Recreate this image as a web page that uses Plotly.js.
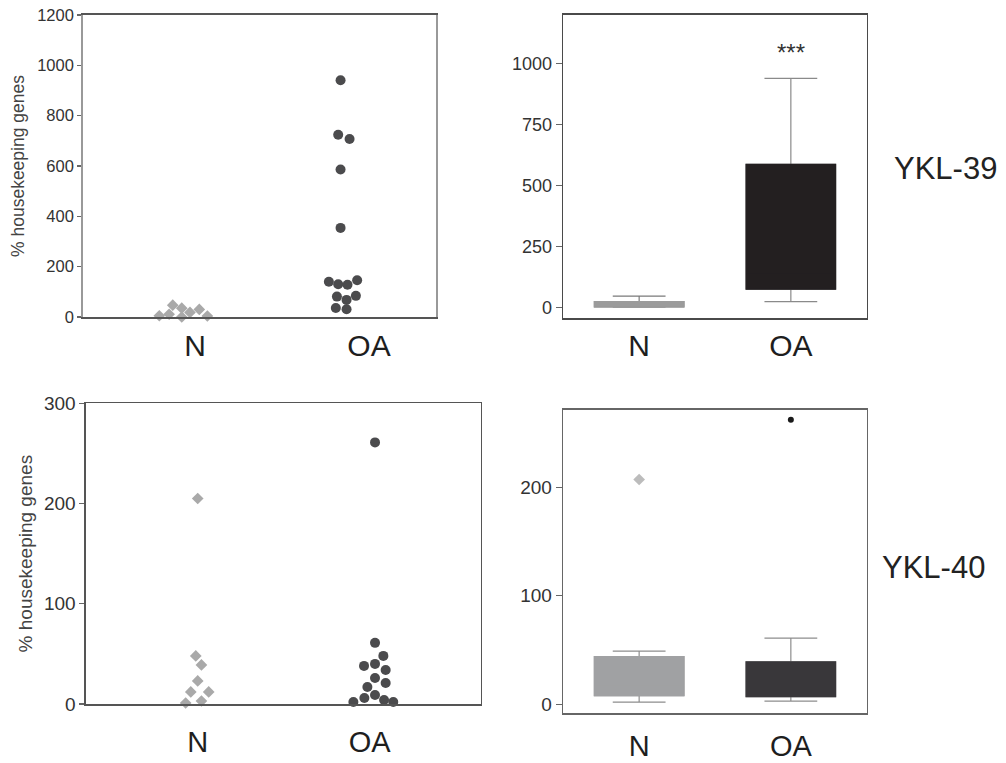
<!DOCTYPE html>
<html>
<head>
<meta charset="utf-8">
<script src="https://cdn.plot.ly/plotly-3.0.1.min.js"></script>
<style>
  html, body { margin: 0; padding: 0; background: #fff; }
  #chart { width: 1006px; height: 763px; }
</style>
</head>
<body>
<div id="chart"></div>
<script>
// ---------- data ----------
const categories = ['N', 'OA'];
const geneLabels = ['YKL-39', 'YKL-40'];
const yTitle = '% housekeeping genes';
const significance = '***';

// YKL-39 individual values (scatter panel)
const ykl39N  = [47, 35, 30, 18, 11, 5, 0, 4];
const ykl39OA = [941, 724, 707, 586, 354, 140, 130, 128, 146, 81, 68, 84, 36, 31];
// YKL-40 individual values (scatter panel)
const ykl40N  = [205, 48, 39, 23, 12, 12, 3, 1];
const ykl40OA = [261, 61, 48, 40, 38, 34, 26, 21, 17, 9, 6, 4, 2, 2];

// horizontal spread of the dot plots (display offsets from the category position)
const ykl39NSpread  = [-0.062, -0.005, 0.106, 0.047, -0.085, -0.147, -0.005, 0.157];
const ykl39OASpread = [0, -0.015, 0.057, 0, 0, -0.074, -0.015, 0.044, 0.105, -0.023, 0.038, 0.097, -0.030, 0.038];
const ykl40NSpread  = [0, -0.011, 0.021, 0, -0.039, 0.062, 0.021, -0.068];
const ykl40OASpread = [0, 0, 0.047, 0, -0.062, 0.060, 0, 0.060, -0.043, 0, -0.060, 0.051, -0.122, 0.103];

// YKL-39 box statistics [N, OA]
const ykl39Q1     = [2, 74];
const ykl39Median = [12, 135];
const ykl39Q3     = [23, 586];
const ykl39Lower  = [0, 23];
const ykl39Upper  = [46, 938];

// YKL-40 box statistics [N, OA]
const ykl40Q1     = [8, 7];
const ykl40Median = [17, 21];
const ykl40Q3     = [44, 39];
const ykl40Lower  = [2, 3];
const ykl40Upper  = [49, 61];
const ykl40Outliers = [207, 262];

// ---------- helpers ----------
const catPos = [0, 1];
const FONT = 'Liberation Sans, Arial, sans-serif';
const nColor = '#a9a9a9';
const oaColor = '#4b4b4d';

function spreadX(center, offs) { return offs.map(o => center + o); }

const traces = [];

// top-left dot plot
traces.push({type: 'scatter', mode: 'markers', xaxis: 'x', yaxis: 'y',
  x: spreadX(catPos[0], ykl39NSpread), y: ykl39N, cliponaxis: false,
  marker: {symbol: 'diamond', size: 9, color: nColor}, showlegend: false});
traces.push({type: 'scatter', mode: 'markers', xaxis: 'x', yaxis: 'y',
  x: spreadX(catPos[1], ykl39OASpread), y: ykl39OA, cliponaxis: false,
  marker: {symbol: 'circle', size: 10, color: oaColor}, showlegend: false});

// bottom-left dot plot
traces.push({type: 'scatter', mode: 'markers', xaxis: 'x3', yaxis: 'y3',
  x: spreadX(catPos[0], ykl40NSpread), y: ykl40N, cliponaxis: false,
  marker: {symbol: 'diamond', size: 9, color: nColor}, showlegend: false});
traces.push({type: 'scatter', mode: 'markers', xaxis: 'x3', yaxis: 'y3',
  x: spreadX(catPos[1], ykl40OASpread), y: ykl40OA, cliponaxis: false,
  marker: {symbol: 'circle', size: 10, color: oaColor}, showlegend: false});

// box helpers: whisker layer then filled body layer
function boxPair(xa, ya, i, q1, med, q3, lo, hi, fill, wline) {
  traces.push({type: 'box', xaxis: xa, yaxis: ya, x: [catPos[i]],
    q1: [q1[i]], median: [med[i]], q3: [q3[i]], lowerfence: [lo[i]], upperfence: [hi[i]],
    width: 0.59, whiskerwidth: 0.59, fillcolor: fill, boxpoints: false,
    line: {color: wline, width: 1.2}, showlegend: false, hoverinfo: 'skip'});
  traces.push({type: 'box', xaxis: xa, yaxis: ya, x: [catPos[i]],
    q1: [q1[i]], median: [med[i]], q3: [q3[i]], lowerfence: [q1[i]], upperfence: [q3[i]],
    width: 0.59, whiskerwidth: 0, fillcolor: fill, boxpoints: false,
    line: {color: fill, width: 1.2}, showlegend: false});
}

boxPair('x2', 'y2', 0, ykl39Q1, ykl39Median, ykl39Q3, ykl39Lower, ykl39Upper, '#9b9b9b', '#7a7a7a');
boxPair('x2', 'y2', 1, ykl39Q1, ykl39Median, ykl39Q3, ykl39Lower, ykl39Upper, '#231f20', '#8a8a8a');
boxPair('x4', 'y4', 0, ykl40Q1, ykl40Median, ykl40Q3, ykl40Lower, ykl40Upper, '#a0a1a3', '#8d8d8d');
boxPair('x4', 'y4', 1, ykl40Q1, ykl40Median, ykl40Q3, ykl40Lower, ykl40Upper, '#39373a', '#8d8d8d');

// outliers bottom-right
traces.push({type: 'scatter', mode: 'markers', xaxis: 'x4', yaxis: 'y4',
  x: [catPos[0]], y: [ykl40Outliers[0]], marker: {symbol: 'diamond', size: 9, color: '#bcbcbc'}, showlegend: false});
traces.push({type: 'scatter', mode: 'markers', xaxis: 'x4', yaxis: 'y4',
  x: [catPos[1]], y: [ykl40Outliers[1]], marker: {symbol: 'circle', size: 6, color: '#1a1a1a'}, showlegend: false});

const W = 1006, H = 763;
const dx = (a, b) => [a / W, b / W];
const dy = (top, bottom) => [(H - bottom) / H, (H - top) / H];

function catAxis(domain, range, tickvals, standoff, anchor, lc, lw, fs) {
  return {domain: domain, range: range, anchor: anchor, tickmode: 'array',
    tickvals: tickvals, ticktext: categories, ticks: '', showgrid: false, zeroline: false,
    showline: true, mirror: true, linecolor: lc, linewidth: lw, fixedrange: true,
    ticklabelstandoff: standoff,
    tickfont: {family: FONT, size: fs, color: '#1e1e1e'}};
}
function valAxis(domain, range, tickvals, anchor, fs, lc, lw, tl, title) {
  const ax = {domain: domain, range: range, anchor: anchor, tickmode: 'array', tickvals: tickvals,
    ticks: 'outside', ticklen: tl, tickwidth: 1.2, tickcolor: '#666', showgrid: false, zeroline: false,
    showline: true, mirror: true, linecolor: lc, linewidth: lw, fixedrange: true,
    tickfont: {family: FONT, size: fs, color: '#333'}};
  if (title) ax.title = title;
  return ax;
}

const layout = {
  width: W, height: H, margin: {l: 0, r: 0, t: 0, b: 0},
  paper_bgcolor: '#fff', plot_bgcolor: '#fff', showlegend: false, boxmode: 'overlay',
  font: {family: FONT},
  xaxis:  catAxis(dx(83, 436), [-0.63, 1.604], [0.08, 1.18], 1, 'y', '#555', 1.6, 30),
  yaxis:  valAxis(dy(15, 317), [0, 1200], [0, 200, 400, 600, 800, 1000, 1200], 'x', 16.5, '#999', 1.8, 4,
            {text: yTitle, standoff: 8, font: {family: FONT, size: 17.5, color: '#444'}}),
  xaxis2: catAxis(dx(563.3, 866.7), [-0.5, 1.5], catPos, 0, 'y2', '#4a4a4a', 1.6, 30),
  yaxis2: valAxis(dy(15, 318), [-44, 1198], [0, 250, 500, 750, 1000], 'x2', 18, '#4a4a4a', 1.6, 6),
  xaxis3: catAxis(dx(86, 480.7), [-0.63, 1.596], [0, 0.97], 12, 'y3', '#555', 1.6, 29),
  yaxis3: valAxis(dy(403.3, 704), [0, 300], [0, 100, 200, 300], 'x3', 19, '#555', 1.6, 5,
            {text: yTitle, standoff: 6, font: {family: FONT, size: 19, color: '#444'}}),
  xaxis4: catAxis(dx(563.3, 866.7), [-0.5, 1.5], catPos, 6, 'y4', '#666', 1.6, 29),
  yaxis4: valAxis(dy(410, 713.3), [-8.3, 271], [0, 100, 200], 'x4', 19, '#666', 1.6, 6),
  annotations: [
    {xref: 'x2', yref: 'y2', x: catPos[1], y: 1045, text: significance, showarrow: false,
     font: {family: FONT, size: 24, color: '#333'}},
    {xref: 'paper', yref: 'paper', x: 892 / W, y: (H - 168) / H, xanchor: 'left', yanchor: 'middle',
     text: geneLabels[0], showarrow: false, font: {family: FONT, size: 31, color: '#222'}},
    {xref: 'paper', yref: 'paper', x: 880 / W, y: (H - 567) / H, xanchor: 'left', yanchor: 'middle',
     text: geneLabels[1], showarrow: false, font: {family: FONT, size: 31, color: '#222'}}
  ]
};

Plotly.newPlot('chart', traces, layout, {displayModeBar: false, staticPlot: true});
</script>
</body>
</html>
